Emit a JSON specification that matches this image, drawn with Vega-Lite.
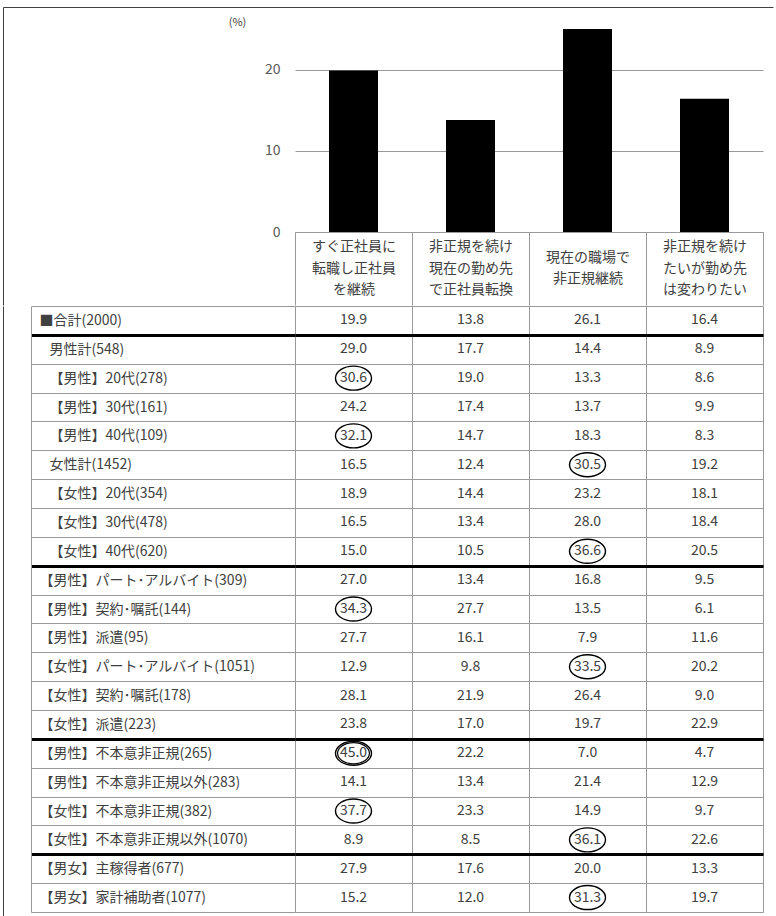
{
  "$schema": "https://vega.github.io/schema/vega-lite/v6.json",
  "background": "white",
  "padding": {"left": 2, "top": 6, "right": 0, "bottom": 0},
  "spacing": -10,
  "config": {"font": "Noto Sans CJK JP", "view": {"stroke": null}},
  "datasets": {
    "survey": [
      {"group": "■合計(2000)", "answer": "すぐ正社員に転職し正社員を継続", "pct": 19.9},
      {"group": "■合計(2000)", "answer": "非正規を続け現在の勤め先で正社員転換", "pct": 13.8},
      {"group": "■合計(2000)", "answer": "現在の職場で非正規継続", "pct": 26.1},
      {"group": "■合計(2000)", "answer": "非正規を続けたいが勤め先は変わりたい", "pct": 16.4},
      {"group": "男性計(548)", "answer": "すぐ正社員に転職し正社員を継続", "pct": 29.0},
      {"group": "男性計(548)", "answer": "非正規を続け現在の勤め先で正社員転換", "pct": 17.7},
      {"group": "男性計(548)", "answer": "現在の職場で非正規継続", "pct": 14.4},
      {"group": "男性計(548)", "answer": "非正規を続けたいが勤め先は変わりたい", "pct": 8.9},
      {"group": "【男性】20代(278)", "answer": "すぐ正社員に転職し正社員を継続", "pct": 30.6},
      {"group": "【男性】20代(278)", "answer": "非正規を続け現在の勤め先で正社員転換", "pct": 19.0},
      {"group": "【男性】20代(278)", "answer": "現在の職場で非正規継続", "pct": 13.3},
      {"group": "【男性】20代(278)", "answer": "非正規を続けたいが勤め先は変わりたい", "pct": 8.6},
      {"group": "【男性】30代(161)", "answer": "すぐ正社員に転職し正社員を継続", "pct": 24.2},
      {"group": "【男性】30代(161)", "answer": "非正規を続け現在の勤め先で正社員転換", "pct": 17.4},
      {"group": "【男性】30代(161)", "answer": "現在の職場で非正規継続", "pct": 13.7},
      {"group": "【男性】30代(161)", "answer": "非正規を続けたいが勤め先は変わりたい", "pct": 9.9},
      {"group": "【男性】40代(109)", "answer": "すぐ正社員に転職し正社員を継続", "pct": 32.1},
      {"group": "【男性】40代(109)", "answer": "非正規を続け現在の勤め先で正社員転換", "pct": 14.7},
      {"group": "【男性】40代(109)", "answer": "現在の職場で非正規継続", "pct": 18.3},
      {"group": "【男性】40代(109)", "answer": "非正規を続けたいが勤め先は変わりたい", "pct": 8.3},
      {"group": "女性計(1452)", "answer": "すぐ正社員に転職し正社員を継続", "pct": 16.5},
      {"group": "女性計(1452)", "answer": "非正規を続け現在の勤め先で正社員転換", "pct": 12.4},
      {"group": "女性計(1452)", "answer": "現在の職場で非正規継続", "pct": 30.5},
      {"group": "女性計(1452)", "answer": "非正規を続けたいが勤め先は変わりたい", "pct": 19.2},
      {"group": "【女性】20代(354)", "answer": "すぐ正社員に転職し正社員を継続", "pct": 18.9},
      {"group": "【女性】20代(354)", "answer": "非正規を続け現在の勤め先で正社員転換", "pct": 14.4},
      {"group": "【女性】20代(354)", "answer": "現在の職場で非正規継続", "pct": 23.2},
      {"group": "【女性】20代(354)", "answer": "非正規を続けたいが勤め先は変わりたい", "pct": 18.1},
      {"group": "【女性】30代(478)", "answer": "すぐ正社員に転職し正社員を継続", "pct": 16.5},
      {"group": "【女性】30代(478)", "answer": "非正規を続け現在の勤め先で正社員転換", "pct": 13.4},
      {"group": "【女性】30代(478)", "answer": "現在の職場で非正規継続", "pct": 28.0},
      {"group": "【女性】30代(478)", "answer": "非正規を続けたいが勤め先は変わりたい", "pct": 18.4},
      {"group": "【女性】40代(620)", "answer": "すぐ正社員に転職し正社員を継続", "pct": 15.0},
      {"group": "【女性】40代(620)", "answer": "非正規を続け現在の勤め先で正社員転換", "pct": 10.5},
      {"group": "【女性】40代(620)", "answer": "現在の職場で非正規継続", "pct": 36.6},
      {"group": "【女性】40代(620)", "answer": "非正規を続けたいが勤め先は変わりたい", "pct": 20.5},
      {"group": "【男性】パート･アルバイト(309)", "answer": "すぐ正社員に転職し正社員を継続", "pct": 27.0},
      {"group": "【男性】パート･アルバイト(309)", "answer": "非正規を続け現在の勤め先で正社員転換", "pct": 13.4},
      {"group": "【男性】パート･アルバイト(309)", "answer": "現在の職場で非正規継続", "pct": 16.8},
      {"group": "【男性】パート･アルバイト(309)", "answer": "非正規を続けたいが勤め先は変わりたい", "pct": 9.5},
      {"group": "【男性】契約･嘱託(144)", "answer": "すぐ正社員に転職し正社員を継続", "pct": 34.3},
      {"group": "【男性】契約･嘱託(144)", "answer": "非正規を続け現在の勤め先で正社員転換", "pct": 27.7},
      {"group": "【男性】契約･嘱託(144)", "answer": "現在の職場で非正規継続", "pct": 13.5},
      {"group": "【男性】契約･嘱託(144)", "answer": "非正規を続けたいが勤め先は変わりたい", "pct": 6.1},
      {"group": "【男性】派遣(95)", "answer": "すぐ正社員に転職し正社員を継続", "pct": 27.7},
      {"group": "【男性】派遣(95)", "answer": "非正規を続け現在の勤め先で正社員転換", "pct": 16.1},
      {"group": "【男性】派遣(95)", "answer": "現在の職場で非正規継続", "pct": 7.9},
      {"group": "【男性】派遣(95)", "answer": "非正規を続けたいが勤め先は変わりたい", "pct": 11.6},
      {"group": "【女性】パート･アルバイト(1051)", "answer": "すぐ正社員に転職し正社員を継続", "pct": 12.9},
      {"group": "【女性】パート･アルバイト(1051)", "answer": "非正規を続け現在の勤め先で正社員転換", "pct": 9.8},
      {"group": "【女性】パート･アルバイト(1051)", "answer": "現在の職場で非正規継続", "pct": 33.5},
      {"group": "【女性】パート･アルバイト(1051)", "answer": "非正規を続けたいが勤め先は変わりたい", "pct": 20.2},
      {"group": "【女性】契約･嘱託(178)", "answer": "すぐ正社員に転職し正社員を継続", "pct": 28.1},
      {"group": "【女性】契約･嘱託(178)", "answer": "非正規を続け現在の勤め先で正社員転換", "pct": 21.9},
      {"group": "【女性】契約･嘱託(178)", "answer": "現在の職場で非正規継続", "pct": 26.4},
      {"group": "【女性】契約･嘱託(178)", "answer": "非正規を続けたいが勤め先は変わりたい", "pct": 9.0},
      {"group": "【女性】派遣(223)", "answer": "すぐ正社員に転職し正社員を継続", "pct": 23.8},
      {"group": "【女性】派遣(223)", "answer": "非正規を続け現在の勤め先で正社員転換", "pct": 17.0},
      {"group": "【女性】派遣(223)", "answer": "現在の職場で非正規継続", "pct": 19.7},
      {"group": "【女性】派遣(223)", "answer": "非正規を続けたいが勤め先は変わりたい", "pct": 22.9},
      {"group": "【男性】不本意非正規(265)", "answer": "すぐ正社員に転職し正社員を継続", "pct": 45.0},
      {"group": "【男性】不本意非正規(265)", "answer": "非正規を続け現在の勤め先で正社員転換", "pct": 22.2},
      {"group": "【男性】不本意非正規(265)", "answer": "現在の職場で非正規継続", "pct": 7.0},
      {"group": "【男性】不本意非正規(265)", "answer": "非正規を続けたいが勤め先は変わりたい", "pct": 4.7},
      {"group": "【男性】不本意非正規以外(283)", "answer": "すぐ正社員に転職し正社員を継続", "pct": 14.1},
      {"group": "【男性】不本意非正規以外(283)", "answer": "非正規を続け現在の勤め先で正社員転換", "pct": 13.4},
      {"group": "【男性】不本意非正規以外(283)", "answer": "現在の職場で非正規継続", "pct": 21.4},
      {"group": "【男性】不本意非正規以外(283)", "answer": "非正規を続けたいが勤め先は変わりたい", "pct": 12.9},
      {"group": "【女性】不本意非正規(382)", "answer": "すぐ正社員に転職し正社員を継続", "pct": 37.7},
      {"group": "【女性】不本意非正規(382)", "answer": "非正規を続け現在の勤め先で正社員転換", "pct": 23.3},
      {"group": "【女性】不本意非正規(382)", "answer": "現在の職場で非正規継続", "pct": 14.9},
      {"group": "【女性】不本意非正規(382)", "answer": "非正規を続けたいが勤め先は変わりたい", "pct": 9.7},
      {"group": "【女性】不本意非正規以外(1070)", "answer": "すぐ正社員に転職し正社員を継続", "pct": 8.9},
      {"group": "【女性】不本意非正規以外(1070)", "answer": "非正規を続け現在の勤め先で正社員転換", "pct": 8.5},
      {"group": "【女性】不本意非正規以外(1070)", "answer": "現在の職場で非正規継続", "pct": 36.1},
      {"group": "【女性】不本意非正規以外(1070)", "answer": "非正規を続けたいが勤め先は変わりたい", "pct": 22.6},
      {"group": "【男女】主稼得者(677)", "answer": "すぐ正社員に転職し正社員を継続", "pct": 27.9},
      {"group": "【男女】主稼得者(677)", "answer": "非正規を続け現在の勤め先で正社員転換", "pct": 17.6},
      {"group": "【男女】主稼得者(677)", "answer": "現在の職場で非正規継続", "pct": 20.0},
      {"group": "【男女】主稼得者(677)", "answer": "非正規を続けたいが勤め先は変わりたい", "pct": 13.3},
      {"group": "【男女】家計補助者(1077)", "answer": "すぐ正社員に転職し正社員を継続", "pct": 15.2},
      {"group": "【男女】家計補助者(1077)", "answer": "非正規を続け現在の勤め先で正社員転換", "pct": 12.0},
      {"group": "【男女】家計補助者(1077)", "answer": "現在の職場で非正規継続", "pct": 31.3},
      {"group": "【男女】家計補助者(1077)", "answer": "非正規を続けたいが勤め先は変わりたい", "pct": 19.7}
    ]
  },
  "vconcat": [
    {
      "width": 468,
      "height": 203,
      "data": {"name": "survey"},
      "transform": [{"filter": "datum.group == '■合計(2000)'"}],
      "resolve": {"scale": {"x": "independent"}, "axis": {"x": "independent"}},
      "layer": [
        {
          "mark": {"type": "bar", "color": "black", "size": 49, "clip": true},
          "encoding": {
            "x": {
              "field": "answer", "type": "nominal", "sort": null,
              "scale": {"paddingInner": 0, "paddingOuter": 0},
              "axis": {
                "orient": "bottom",
                "title": null, "labelAngle": 0, "domainColor": "#999999", "tickColor": "#999999",
                "tickBand": "extent", "tickSize": 73,
                "labelPadding": {"condition": {"test": "length(datum.label) > 12", "value": -58.5}, "value": -47.75},
                "labelBaseline": "middle",
                "labelFontSize": 14, "labelColor": "#404040", "labelLineHeight": 21.5,
                "labelExpr": "length(datum.label) > 12 ? [substring(datum.label,0,6), substring(datum.label,6,12), substring(datum.label,12)] : [substring(datum.label,0,6), substring(datum.label,6)]"
              }
            },
            "y": {
              "field": "pct", "type": "quantitative",
              "scale": {"domain": [0, 25], "nice": false},
              "axis": {
                "values": [0, 10, 20], "title": "(%)", "titleAngle": 0, "titleX": -58, "titleY": -7,
                "titleFontSize": 11, "titleFontWeight": "normal", "titleColor": "#404040",
                "titleAlign": "center", "titleBaseline": "middle",
                "domain": false, "ticks": false, "labelPadding": 15, "labelFontSize": 14,
                "labelColor": "#595959", "gridColor": "#999999"
              }
            }
          }
        },
        {
          "mark": {"type": "point", "opacity": 0},
          "encoding": {
            "x": {
              "field": "pct", "type": "quantitative",
              "scale": {"domain": [0, 50], "range": [-292, 478], "nice": false, "zero": false},
              "axis": {"orient": "top", "offset": 22, "values": [0], "labels": false, "title": null, "grid": false,
                       "domain": true, "domainColor": "#404040", "ticks": true, "tickColor": "#404040", "tickSize": -298}
            }
          }
        }
      ]
    },
    {
      "width": 468,
      "height": 606,
      "data": {"name": "survey"},
      "resolve": {"scale": {"x": "independent"}, "axis": {"x": "independent"}},
      "encoding": {
        "y": {
          "field": "group", "type": "nominal", "sort": null,
          "scale": {"paddingInner": 0, "paddingOuter": 0},
          "axis": {
            "title": null, "offset": 264, "domain": true, "domainColor": "#999999",
            "ticks": true, "tickSize": -264, "tickBand": "extent",
            "tickColor": {"condition": {"test": "indexof(['■合計(2000)', '【女性】40代(620)', '【女性】派遣(223)', '【女性】不本意非正規以外(1070)'], datum.value) >= 0", "value": "black"}, "value": "#999999"},
            "tickWidth": {"condition": {"test": "indexof(['■合計(2000)', '【女性】40代(620)', '【女性】派遣(223)', '【女性】不本意非正規以外(1070)'], datum.value) >= 0", "value": 3}, "value": 1},
            "grid": true,
            "gridColor": {"condition": {"test": "indexof(['■合計(2000)', '【女性】40代(620)', '【女性】派遣(223)', '【女性】不本意非正規以外(1070)'], datum.value) >= 0", "value": "black"}, "value": "#999999"},
            "gridWidth": {"condition": {"test": "indexof(['■合計(2000)', '【女性】40代(620)', '【女性】派遣(223)', '【女性】不本意非正規以外(1070)'], datum.value) >= 0", "value": 3}, "value": 1},
            "labelAlign": "left",
            "labelPadding": {"condition": {"test": "indexof(['男性計(548)', '【男性】20代(278)', '【男性】30代(161)', '【男性】40代(109)', '女性計(1452)', '【女性】20代(354)', '【女性】30代(478)', '【女性】40代(620)'], datum.value) >= 0", "value": 246}, "value": 256},
            "labelBaseline": "middle",
            "labelFontSize": 14, "labelColor": "#404040", "labelLimit": 0
          }
        }
      },
      "layer": [
        {
          "layer": [
            {
              "mark": {"type": "text", "fontSize": 14, "color": "#404040"},
              "encoding": {"text": {"field": "pct", "type": "quantitative", "format": ".1f"}}
            },
            {
              "transform": [{"filter": "datum.pct >= 30"}],
              "mark": {"type": "point", "shape": "M-1.5,0A1.5,1,0,1,1,1.5,0A1.5,1,0,1,1,-1.5,0Z", "size": 576, "filled": false, "stroke": "black", "strokeWidth": 1.4, "opacity": 1}
            },
            {
              "transform": [{"filter": "datum.pct >= 40"}],
              "mark": {"type": "point", "shape": "M-1.5,0A1.5,1,0,1,1,1.5,0A1.5,1,0,1,1,-1.5,0Z", "size": 450, "filled": false, "stroke": "black", "strokeWidth": 1.2, "opacity": 1}
            }
          ],
          "encoding": {
            "x": {
              "field": "answer", "type": "nominal", "sort": null,
              "scale": {"paddingInner": 0, "paddingOuter": 0},
              "axis": {"orient": "bottom", "title": null, "labels": false, "ticks": false, "domain": false, "grid": true, "tickBand": "extent", "gridColor": "#999999"}
            }
          }
        },
        {
          "mark": {"type": "point", "opacity": 0},
          "encoding": {
            "x": {
              "field": "pct", "type": "quantitative",
              "scale": {"domain": [0, 50], "range": [-292, 478], "nice": false, "zero": false},
              "axis": {"orient": "top", "values": [0], "labels": false, "title": null, "grid": false,
                       "domain": false, "ticks": true, "tickColor": "#404040", "tickSize": -615}
            }
          }
        }
      ]
    }
  ]
}
